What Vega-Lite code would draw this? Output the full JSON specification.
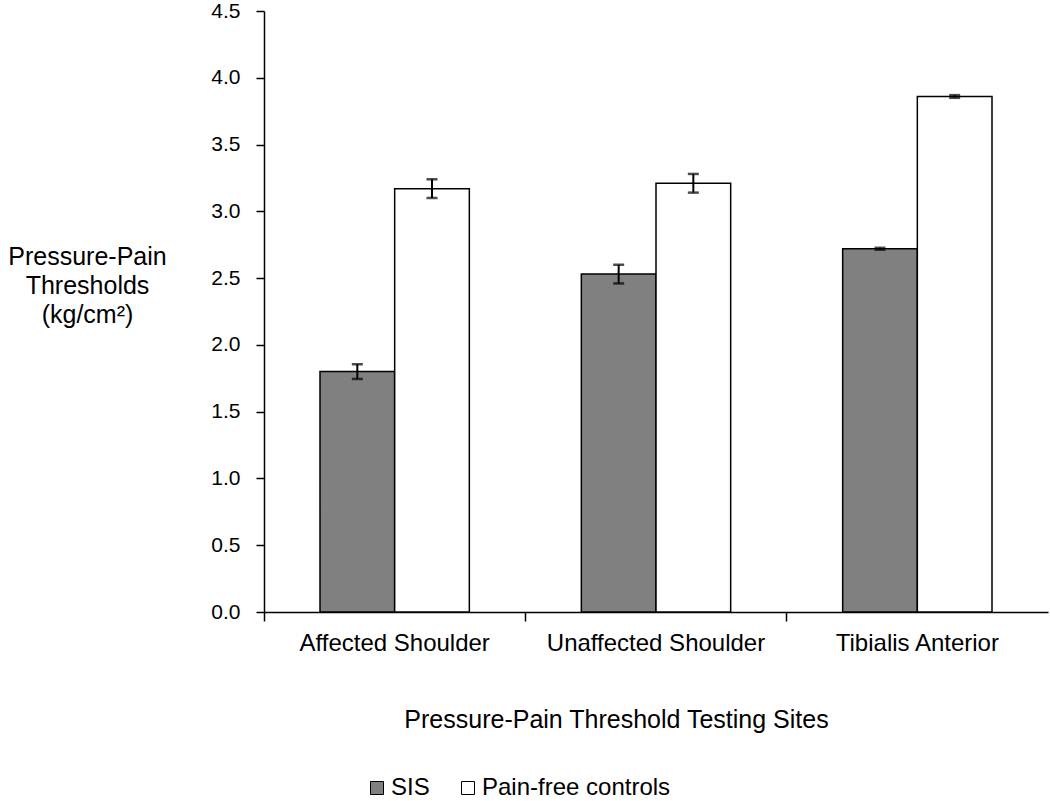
{
  "$schema": "https://vega.github.io/schema/vega-lite/v6.json",
  "width": 784,
  "height": 601,
  "autosize": {"type": "none"},
  "padding": {"left": 264, "top": 11, "right": 2, "bottom": 189},
  "background": "white",
  "config": {
    "font": "Liberation Sans",
    "view": {"stroke": null},
    "axis": {
      "grid": false,
      "domainColor": "black",
      "tickColor": "black",
      "labelColor": "black",
      "titleColor": "black",
      "labelFont": "Liberation Sans",
      "titleFont": "Liberation Sans",
      "titleFontWeight": "normal",
      "domainWidth": 1.5,
      "tickWidth": 1.5,
      "labelLimit": 0
    },
    "legend": {"labelFont": "Liberation Sans", "labelLimit": 0}
  },
  "data": {
    "values": [
      {"site": "Affected Shoulder", "group": "SIS", "mean": 1.80, "lo": 1.745, "hi": 1.855},
      {"site": "Affected Shoulder", "group": "Pain-free controls", "mean": 3.17, "lo": 3.10, "hi": 3.24},
      {"site": "Unaffected Shoulder", "group": "SIS", "mean": 2.53, "lo": 2.46, "hi": 2.60},
      {"site": "Unaffected Shoulder", "group": "Pain-free controls", "mean": 3.21, "lo": 3.14, "hi": 3.28},
      {"site": "Tibialis Anterior", "group": "SIS", "mean": 2.72, "lo": 2.713, "hi": 2.727},
      {"site": "Tibialis Anterior", "group": "Pain-free controls", "mean": 3.86, "lo": 3.85, "hi": 3.87}
    ]
  },
  "encoding": {
    "x": {
      "field": "site",
      "type": "nominal",
      "sort": ["Affected Shoulder", "Unaffected Shoulder", "Tibialis Anterior"],
      "scale": {"paddingInner": 0, "paddingOuter": 0},
      "axis": {
        "labelAngle": 0,
        "labelFontSize": 24,
        "labelLimit": 0,
        "tickSize": 9,
        "labelPadding": 10,
        "bandPosition": 0,
        "title": "Pressure-Pain Threshold Testing Sites",
        "titleFontSize": 25,
        "titleX": 352,
        "titleY": 115,
        "titleBaseline": "alphabetic"
      }
    },
    "xOffset": {
      "field": "group",
      "type": "nominal",
      "sort": ["SIS", "Pain-free controls"],
      "scale": {"paddingInner": 0, "paddingOuter": 0.75}
    }
  },
  "layer": [
    {
      "mark": {"type": "bar", "stroke": "black", "strokeWidth": 1.5},
      "encoding": {
        "y": {
          "field": "mean",
          "type": "quantitative",
          "scale": {"domain": [0, 4.5]},
          "axis": {
            "values": [0, 0.5, 1, 1.5, 2, 2.5, 3, 3.5, 4, 4.5],
            "format": ".1f",
            "tickSize": 8,
            "labelPadding": 16,
            "labelFontSize": 21,
            "title": ["Pressure-Pain", "Thresholds", "(kg/cm²)"],
            "titleAngle": 0,
            "titleAlign": "center",
            "titleBaseline": "top",
            "titleFontSize": 25,
            "titleLineHeight": 29,
            "titleX": -177,
            "titleY": 233
          }
        },
        "fill": {
          "field": "group",
          "type": "nominal",
          "scale": {"domain": ["SIS", "Pain-free controls"], "range": ["#808080", "#ffffff"]},
          "legend": {
            "title": null,
            "orient": "none",
            "direction": "horizontal",
            "legendX": 101,
            "legendY": 765,
            "symbolType": "square",
            "symbolSize": 169,
            "symbolStrokeColor": "black",
            "symbolStrokeWidth": 1,
            "labelFontSize": 24,
            "labelColor": "black",
            "labelOffset": 2,
            "columnPadding": 26,
            "labelLimit": 0
          }
        }
      }
    },
    {
      "mark": {"type": "rule", "strokeWidth": 2, "color": "black"},
      "encoding": {
        "y": {"field": "lo", "type": "quantitative"},
        "y2": {"field": "hi"}
      }
    },
    {
      "mark": {"type": "tick", "color": "black", "thickness": 2.5, "size": 11},
      "encoding": {"y": {"field": "lo", "type": "quantitative"}}
    },
    {
      "mark": {"type": "tick", "color": "black", "thickness": 2.5, "size": 11},
      "encoding": {"y": {"field": "hi", "type": "quantitative"}}
    }
  ]
}
